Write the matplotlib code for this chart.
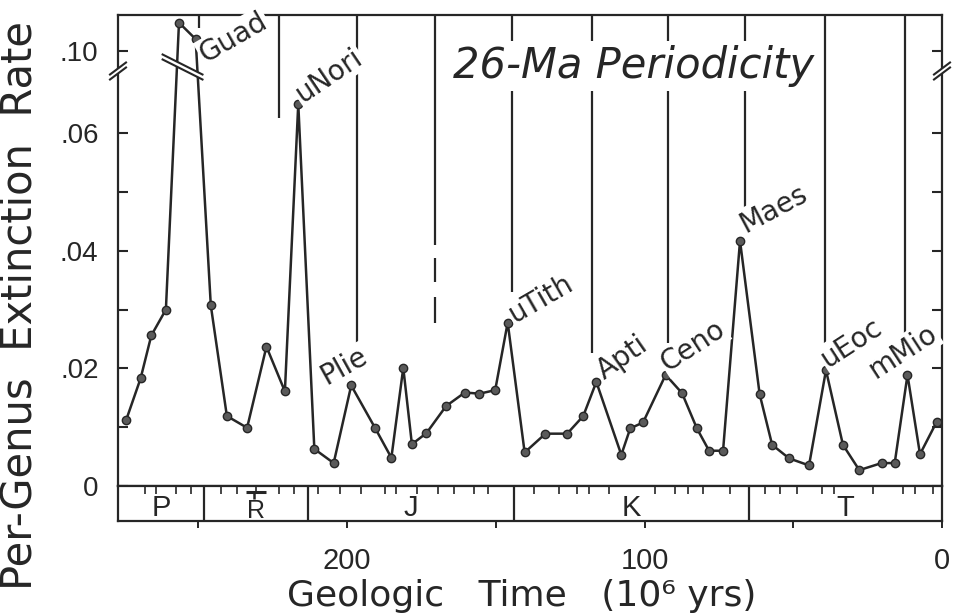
import numpy as np
import matplotlib
matplotlib.use("Agg")
import matplotlib.pyplot as plt
from matplotlib import transforms, font_manager

# ---------------- data ----------------
age_ma = [274.2, 269.4, 265.8, 260.9, 256.5, 250.9, 245.8, 240.4, 233.6, 227.1,
          220.9, 216.4, 211.0, 204.5, 198.6, 190.5, 185.1, 181.1, 178.2, 173.3,
          166.7, 160.4, 155.5, 150.2, 146.0, 140.3, 133.3, 126.0, 120.6, 116.2,
          107.8, 104.8, 100.5, 92.9, 87.4, 82.4, 78.3, 73.6, 67.9, 61.3,
          57.1, 51.4, 44.7, 39.0, 33.3, 27.8, 20.3, 15.9, 11.6, 7.4, 1.8]
extinction_rate = [0.0113, 0.0183, 0.0256, 0.0300, 0.1049, 0.1021, 0.0307, 0.0119, 0.0099, 0.0237,
                   0.0161, 0.0650, 0.0063, 0.0039, 0.0171, 0.0098, 0.0048, 0.0201, 0.0071, 0.0090,
                   0.0136, 0.0159, 0.0157, 0.0163, 0.0278, 0.0057, 0.0089, 0.0089, 0.0119, 0.0177,
                   0.0053, 0.0098, 0.0108, 0.0189, 0.0158, 0.0098, 0.0060, 0.0060, 0.0417, 0.0156,
                   0.0070, 0.0047, 0.0035, 0.0197, 0.0070, 0.0027, 0.0039, 0.0039, 0.0189, 0.0054, 0.0109]

peak_names = ["Guad", "uNori", "Plie", "uTith", "Apti", "Ceno", "Maes", "uEoc", "mMio"]
peak_index = [5, 11, 14, 24, 29, 33, 38, 43, 48]

cycle_ma = [249.7, 222.8, 196.6, 170.6, 144.4, 117.8, 92.2, 66.3, 39.4, 12.5]
cycle_end = [0.1040, 0.0626, 0.0239, 0.0410, 0.0330, 0.0227, 0.0243, 0.0466, 0.0244, 0.0253]
dash_ma = [170.6, 170.6]
dash_lo = [0.0278, 0.0347]
dash_hi = [0.0321, 0.0387]

period_names = ["P", "R", "J", "K", "T"]
period_barred = [False, True, False, False, False]   # Triassic symbol carries a bar
period_bounds = [277, 248, 213, 144, 65, 0]
stage_ticks = [267.9, 264.3, 257.6, 252.5, 242.3, 237.0, 230.7, 222.8, 218.0, 209.6,
               202.3, 195.3, 187.1, 183.5, 176.6, 169.5, 163.9, 157.2, 152.7, 137.3,
               128.8, 122.8, 118.5, 112.0, 96.6, 89.6, 85.4, 80.5, 71.1, 59.6,
               54.5, 48.9, 40.5, 36.4, 23.3, 13.0, 9.1, 2.9]

x_ticks = [250, 200, 150, 100, 50, 0]
x_ticklabels = ["", "200", "", "100", "", "0"]
y_ticks = [0, 0.01, 0.02, 0.03, 0.04, 0.05, 0.06, 0.10]
y_ticklabels = ["0", "", ".02", "", ".04", "", ".06", ".10"]

# ---------------- styles ----------------
INK = "#262626"
available = {f.name for f in font_manager.fontManager.ttflist}
narrow = "Liberation Sans Narrow" if "Liberation Sans Narrow" in available else "Liberation Sans"
plt.rcParams["font.family"] = ["DejaVu Sans"]

# broken y axis: compress 0.070 .. 0.0966 into a tiny gap
_xp = [-1.0, 0.070, 0.0966, 2.0]
_fp = [-1.0, 0.070, 0.0705, 0.0705 + (2.0 - 0.0966)]
def fwd(v):
    return np.interp(v, _xp, _fp)
def inv(u):
    return np.interp(u, _fp, _xp)

W, H = 954, 614
fig = plt.figure(figsize=(W / 100, H / 100), dpi=100)
L, R, T, B = 118, 942, 15, 486
BB = 521
ax = fig.add_axes([L / W, 1 - B / H, (R - L) / W, (B - T) / H])
axb = fig.add_axes([L / W, 1 - BB / H, (R - L) / W, (BB - B) / H], sharex=ax)

ax.set_yscale("function", functions=(fwd, inv))
ax.set_xlim(277, 0)
top = 0.1062
ax.set_ylim(0, top)

# periodicity lines
ax.vlines(cycle_ma, cycle_end, top, color=INK, lw=1.6, zorder=2)
ax.vlines(dash_ma, dash_lo, dash_hi, color=INK, lw=1.6, zorder=2)

# data
ax.plot(age_ma, extinction_rate, color=INK, lw=1.8, marker="o", ms=6,
        mfc="#5a5a5a", mec=INK, mew=1.0, zorder=3, clip_on=False)

# peak labels (offsets in image pixels, y downward)
label_offsets = [(10, 24), (4, -1), (-25, 0), (7, 0), (8, -2), (2, -3), (5, -8), (2, -2), (-32, 4)]
label_rot = [30, 34, 29, 30, 35, 33, 28, 33, 33]
for name, idx, (dx, dy), rot in zip(peak_names, peak_index, label_offsets, label_rot):
    ax.annotate(name, xy=(age_ma[idx], extinction_rate[idx]), xytext=(dx, -dy),
                textcoords="offset pixels", rotation=rot, rotation_mode="anchor",
                ha="left", va="baseline", fontsize=20, color=INK, zorder=5,
                bbox=dict(boxstyle="square,pad=0.05", fc="white", ec="none"))

# title
ax.text((453 - L) / (R - L), (B - 78) / (B - T), "26-Ma Periodicity", style="italic",
        fontsize=30, color=INK, ha="left", va="baseline", zorder=6,
        transform=ax.transAxes,
        bbox=dict(boxstyle="square,pad=0.1", fc="white", ec="none"))

# axes styling
for s in ax.spines.values():
    s.set_linewidth(1.6)
    s.set_color(INK)
ax.set_yticks(y_ticks)
ax.set_yticklabels(y_ticklabels, fontfamily=narrow, fontsize=20, color=INK)
ax.tick_params(axis="y", which="major", direction="in", length=7, width=1.5,
               left=True, right=True, pad=14, colors=INK)
ax.tick_params(axis="y", which="minor", left=False, right=False)
ax.tick_params(axis="x", which="both", bottom=False, top=False, labelbottom=False)

# axis break marks on spines and on data lines
def break_mark(xc, yc, trans, half_w, half_h, gap):
    xs = [xc - half_w, xc + half_w]
    ys1 = [yc - half_h + gap / 2, yc + half_h + gap / 2]
    ys2 = [yc - half_h - gap / 2, yc + half_h - gap / 2]
    ax.fill([xs[0], xs[1], xs[1], xs[0]], [ys2[0], ys2[1], ys1[1], ys1[0]],
            color="white", transform=trans, clip_on=False, zorder=7, lw=0)
    ax.plot(xs, ys1, color=INK, lw=1.5, transform=trans, clip_on=False, zorder=8)
    ax.plot(xs, ys2, color=INK, lw=1.5, transform=trans, clip_on=False, zorder=8)

pw, ph = (R - L), (B - T)
yb = (B - 71) / ph
break_mark(0.0, yb, ax.transAxes, 8 / pw, 6 / ph, 5 / ph)
break_mark(1.0, yb, ax.transAxes, 8 / pw, 6 / ph, 5 / ph)
blend = transforms.blended_transform_factory(ax.transData, ax.transAxes)
break_mark(255.3, (B - 67) / ph, blend, 6.7, 10 / ph, 5 / ph)

# period bar
axb.set_ylim(0, 1)
axb.set_autoscale_on(False)
for s in axb.spines.values():
    s.set_linewidth(1.6)
    s.set_color(INK)
axb.vlines(period_bounds[1:-1], 0, 1, color=INK, lw=1.6)
for name, barred, a, b in zip(period_names, period_barred, period_bounds[:-1], period_bounds[1:]):
    mid = (a + b) / 2
    if barred:
        axb.text(mid, 0.30, name, ha="center", va="center", fontsize=18,
                 fontfamily=narrow, color=INK, zorder=3)
        axb.plot([mid + 3.4, mid - 3.4], [0.84, 0.84], color=INK, lw=2.2,
                 solid_capstyle="butt", zorder=4)
        axb.plot([mid + 0.9, mid + 0.9], [0.84, 0.62], color=INK, lw=1.8,
                 solid_capstyle="butt", zorder=4)
    else:
        axb.text(mid, 0.38, name, ha="center", va="center", fontsize=21,
                 fontfamily=narrow, color=INK)
axb.set_yticks([])
axb.set_xticks(x_ticks)
axb.set_xticklabels(x_ticklabels, fontfamily=narrow, fontsize=21, color=INK)
axb.set_xticks(stage_ticks, minor=True)
axb.tick_params(axis="x", which="major", direction="out", length=5, width=1.4,
                bottom=True, top=False, pad=14, colors=INK)
axb.tick_params(axis="x", which="minor", direction="in", length=6, width=1.2,
                bottom=False, top=True, colors=INK)

# axis titles
fig.text(20 / W, 1 - 305 / H, "Per-Genus  Extinction  Rate", rotation=90,
         ha="center", va="center", fontsize=30, color=INK)
fig.text(522 / W, 1 - 606 / H, "Geologic   Time   (10\u2076 yrs)",
         ha="center", va="baseline", fontsize=26, color=INK)

fig.savefig("out.png", dpi=100, facecolor="white")
